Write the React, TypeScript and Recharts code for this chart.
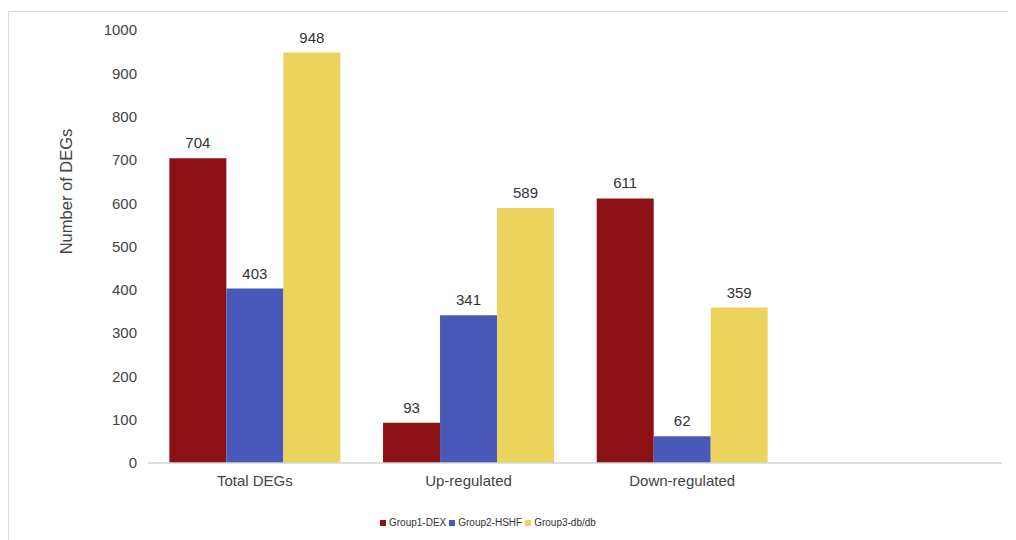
import React from 'react';
import { BarChart, Bar, XAxis, YAxis, LabelList } from 'recharts';

const categories = ['Total DEGs', 'Up-regulated', 'Down-regulated'];
const group1Dex = [704, 93, 611];
const group2Hshf = [403, 341, 62];
const group3Dbdb = [948, 589, 359];
const yTicks = [0, 100, 200, 300, 400, 500, 600, 700, 800, 900, 1000];

const series = [
  { key: 'g1', name: 'Group1-DEX', color: '#8c1115', values: group1Dex },
  { key: 'g2', name: 'Group2-HSHF', color: '#4a59b8', values: group2Hshf },
  { key: 'g3', name: 'Group3-db/db', color: '#ecd35e', values: group3Dbdb },
];

const data = categories.map((c, i) => {
  const row: Record<string, string | number> = { category: c };
  series.forEach((s) => {
    row[s.key] = s.values[i];
  });
  return row;
});

const FONT = '"Liberation Sans", Arial, Helvetica, sans-serif';

const YLabel = (props: any) => {
  const vb = props.viewBox || {};
  const x = vb.x - 22;
  const y = vb.y + vb.height / 2 - 55;
  return (
    <text
      x={x}
      y={y}
      transform={`rotate(-90, ${x}, ${y})`}
      textAnchor="middle"
      dominantBaseline="central"
      fontSize={16.5}
      fill="#444"
      fontFamily={FONT}
    >
      Number of DEGs
    </text>
  );
};

export default function App() {
  return (
    <div style={{ position: 'relative', width: 1008, height: 532, background: '#fff', fontFamily: FONT }}>
      <div
        style={{
          position: 'absolute',
          left: 0,
          top: 3,
          right: -8,
          bottom: -8,
          borderTop: '1.5px solid #dcdcdc',
          borderLeft: '1.5px solid #dcdcdc',
        }}
      />
      <div style={{ position: 'absolute', left: 0, top: 0 }}>
        <BarChart
          width={1008}
          height={532}
          data={data}
          margin={{ top: 22, right: 14, bottom: 47, left: 80 }}
          barGap={0}
          barCategoryGap="10%"
        >
          <XAxis
            dataKey="category"
            axisLine={{ stroke: '#d4d4d4', strokeWidth: 1.5 }}
            tickLine={false}
            tickMargin={6}
            height={30}
            padding={{ left: 0, right: 213 }}
            tick={{ fontSize: 15, fill: '#444', fontFamily: FONT }}
            interval={0}
          />
          <YAxis
            domain={[0, 1000]}
            ticks={yTicks}
            axisLine={false}
            tickLine={false}
            tickMargin={5}
            width={60}
            tick={{ fontSize: 15, fill: '#444', fontFamily: FONT }}
            label={<YLabel />}
          />
          {series.map((s) => (
            <Bar key={s.key} dataKey={s.key} name={s.name} fill={s.color} isAnimationActive={false}>
              <LabelList
                dataKey={s.key}
                position="top"
                offset={10}
                style={{ fontSize: 15, fill: '#333', fontFamily: FONT }}
              />
            </Bar>
          ))}
        </BarChart>
      </div>
      <div
        style={{
          position: 'absolute',
          left: 372,
          top: 509,
          display: 'flex',
          alignItems: 'center',
          fontSize: 10,
          color: '#333',
          fontFamily: FONT,
          lineHeight: '12px',
        }}
      >
        {series.map((s) => (
          <div key={s.key} style={{ display: 'flex', alignItems: 'center', marginRight: 3 }}>
            <span style={{ display: 'inline-block', width: 6, height: 6, background: s.color, marginRight: 3 }} />
            <span>{s.name}</span>
          </div>
        ))}
      </div>
    </div>
  );
}
